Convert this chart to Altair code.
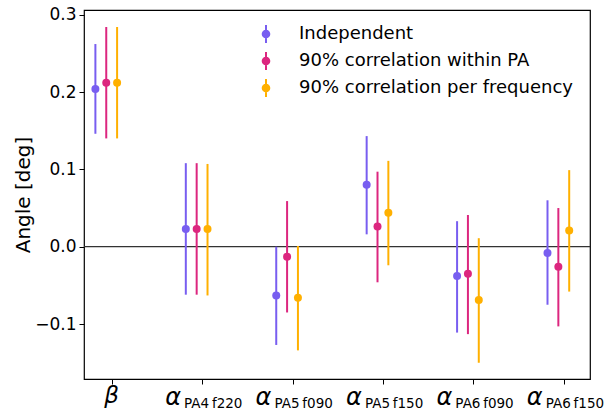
import altair as alt
import pandas as pd

# ---- data ----
main_symbols = ["β", "α", "α", "α", "α", "α"]
subscripts = ["", "PA4\u2009f220", "PA5\u2009f090", "PA5\u2009f150", "PA6\u2009f090", "PA6\u2009f150"]
series = ["Independent", "90% correlation within PA", "90% correlation per frequency"]
colors = ["#785EF0", "#DC267F", "#FFB000"]
offsets = [-0.18, -0.06, 0.06]

indep_val = [0.204, 0.023, -0.063, 0.080, -0.038, -0.008]
indep_lo = [0.146, -0.062, -0.127, 0.016, -0.111, -0.075]
indep_hi = [0.262, 0.108, 0.000, 0.143, 0.033, 0.060]

pa_val = [0.212, 0.023, -0.013, 0.026, -0.035, -0.026]
pa_lo = [0.140, -0.062, -0.085, -0.046, -0.113, -0.103]
pa_hi = [0.284, 0.108, 0.059, 0.097, 0.041, 0.050]

freq_val = [0.212, 0.023, -0.066, 0.044, -0.069, 0.021]
freq_lo = [0.140, -0.063, -0.134, -0.024, -0.150, -0.058]
freq_hi = [0.284, 0.107, 0.001, 0.111, 0.011, 0.099]

y_ticks = [-0.1, 0.0, 0.1, 0.2, 0.3]

# ---- build table ----
rows = []
for s, off, vals, los, his in zip(series, offsets,
                                  [indep_val, pa_val, freq_val],
                                  [indep_lo, pa_lo, freq_lo],
                                  [indep_hi, pa_hi, freq_hi]):
    for i in range(len(main_symbols)):
        rows.append({"series": s, "x": i + off, "val": vals[i], "lo": los[i], "hi": his[i]})
df = pd.DataFrame(rows)

labels_df = pd.DataFrame({"idx": list(range(len(main_symbols))),
                          "main": main_symbols, "sub": subscripts})

W, H = 506, 369
FONT = "DejaVu Sans"

xscale = alt.Scale(domain=[-0.306, 5.29], nice=False, zero=False)
yscale = alt.Scale(domain=[-0.171, 0.306], nice=False, zero=False)
cscale = alt.Scale(domain=series, range=colors)

# filled legend glyph: vertical bar + dot (both clockwise so the union is filled)
sym_path = ("M-0.11,-1L0.11,-1L0.11,1L-0.11,1Z"
            "M-0.48,0A0.48,0.48 0 1,1 0.48,0A0.48,0.48 0 1,1 -0.48,0Z")
legend = alt.Legend(title=None, orient="none", legendX=173, legendY=15,
                    padding=0, rowPadding=9, labelOffset=24,
                    symbolType=sym_path, symbolSize=324, symbolStrokeWidth=0,
                    symbolOpacity=1,
                    labelFont=FONT, labelFontSize=18, labelColor="black",
                    labelLimit=400)

x_enc = alt.X("x:Q", scale=xscale,
              axis=alt.Axis(values=list(range(6)), labels=False, title=None,
                            grid=False, domain=False, tickSize=5,
                            tickColor="black", tickWidth=1))
y_axis = alt.Axis(values=y_ticks, grid=False, domain=False, tickSize=5,
                  tickColor="black", tickWidth=1,
                  labelExpr="replace(format(datum.value, '.1f'), '-', '\u2212')",
                  labelFont=FONT, labelFontSize=17, labelColor="black",
                  labelPadding=3,
                  title="Angle [deg]", titleFont=FONT, titleFontSize=20,
                  titleFontWeight="normal", titleColor="black", titlePadding=1)

base = alt.Chart(df)

zero = alt.Chart(pd.DataFrame({"z": [0.0]})).mark_rule(
    color="#333333", strokeWidth=1.3).encode(
    y=alt.Y("z:Q", scale=yscale, axis=y_axis))

bars = base.mark_rule(strokeWidth=2).encode(
    x=x_enc,
    y=alt.Y("lo:Q", scale=yscale),
    y2="hi:Q",
    color=alt.Color("series:N", scale=cscale, legend=legend, sort=series),
)

points = base.mark_circle(size=64, opacity=1).encode(
    x=alt.X("x:Q", scale=xscale),
    y=alt.Y("val:Q", scale=yscale),
    color=alt.Color("series:N", scale=cscale, legend=legend, sort=series),
)

beta_text = alt.Chart(labels_df).transform_filter("datum.sub == ''").mark_text(
    font=FONT, fontSize=23, fontStyle="italic", color="black",
    baseline="alphabetic", align="center").encode(
    x=alt.X("idx:Q", scale=xscale),
    y=alt.value(H + 24),
    text="main:N",
)

alpha_text = alt.Chart(labels_df).transform_filter("datum.sub != ''").mark_text(
    font=FONT, fontSize=24, fontStyle="italic", color="black",
    baseline="alphabetic", align="center", dx=-29).encode(
    x=alt.X("idx:Q", scale=xscale),
    y=alt.value(H + 26),
    text="main:N",
)

sub_text = alt.Chart(labels_df).transform_filter("datum.sub != ''").mark_text(
    font=FONT, fontSize=13.5, color="black",
    baseline="alphabetic", align="left", dx=-18).encode(
    x=alt.X("idx:Q", scale=xscale),
    y=alt.value(H + 29),
    text="sub:N",
)

chart = alt.layer(zero, bars, points, beta_text, alpha_text, sub_text).properties(
    width=W, height=H,
    background="white",
    autosize=alt.AutoSizeParams(type="none"),
    padding={"left": 84, "top": 10, "right": 25, "bottom": 32},
).configure_view(
    stroke="#000000", strokeWidth=1.2
)

chart.save("out.html", embed_options={"renderer": "svg", "actions": False})
